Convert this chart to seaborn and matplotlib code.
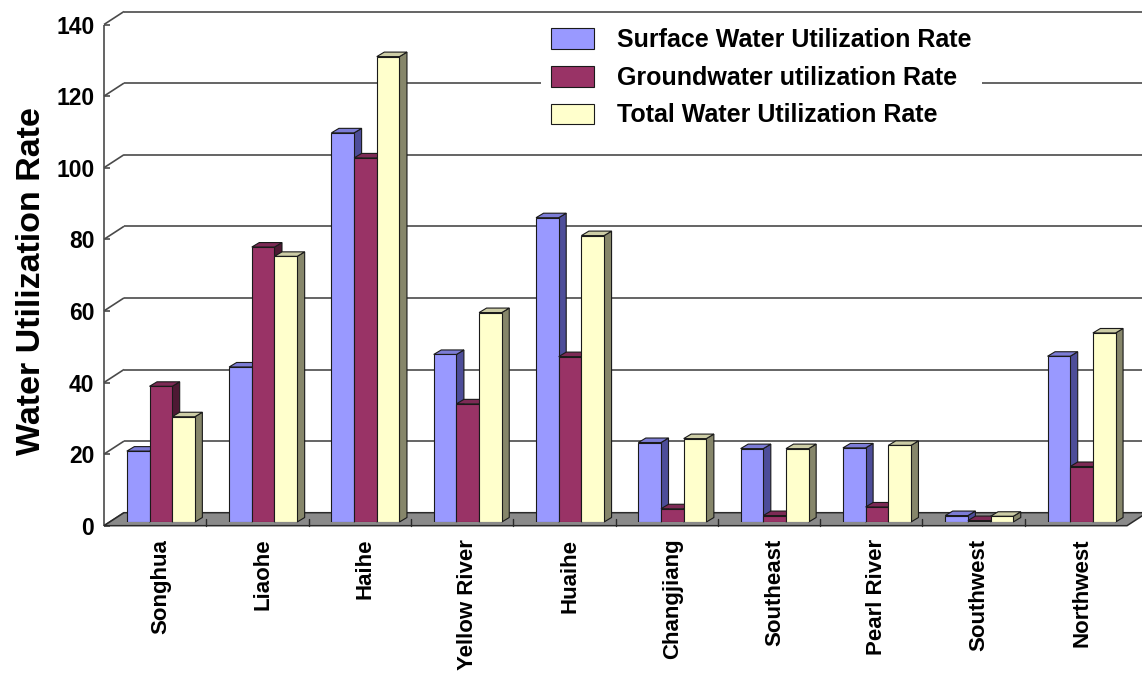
import matplotlib
matplotlib.use("Agg")
import matplotlib.pyplot as plt
import matplotlib.transforms as mtransforms
from matplotlib.patches import Polygon
import pandas as pd
import seaborn as sns

# Data
BASINS = ["Songhua", "Liaohe", "Haihe", "Yellow River", "Huaihe",
          "Changjiang", "Southeast", "Pearl River", "Southwest", "Northwest"]
SURFACE = [19.8, 43.3, 108.7, 46.8, 85.0, 22.2, 20.5, 20.7, 1.8, 46.3]
GROUND = [37.9, 76.8, 101.7, 33.0, 46.2, 3.7, 1.8, 4.2, 0.4, 15.5]
TOTAL = [29.4, 74.2, 130.0, 58.5, 80.0, 23.3, 20.5, 21.4, 1.6, 52.8]
SERIES = ["Surface Water Utilization Rate",
          "Groundwater utilization Rate",
          "Total Water Utilization Rate"]
Y_TICKS = [0, 20, 40, 60, 80, 100, 120, 140]

# Excel-like 3D shading: front / side / top colours per series
FRONT = ["#9999ff", "#993366", "#ffffcc"]
SIDE = ["#4d4d99", "#4d1933", "#86866a"]
TOP = ["#7c7cd6", "#7d2a55", "#cdcda6"]

BAR_DEPTH = (7.5, 4.5)      # pixels, bar depth offset
FRONT_PLANE = (-5.7, -3.7)  # pixels, front edge of floor / axis
BACK_PLANE = (14.3, 9.3)    # pixels, back wall

df = pd.DataFrame({
    "basin": BASINS * 3,
    "rate": SURFACE + GROUND + TOTAL,
    "series": [s for s in SERIES for _ in BASINS],
})

sns.set_style("white")
plt.rcParams["font.family"] = ["Liberation Sans", "DejaVu Sans"]
plt.rcParams["font.weight"] = "bold"
for key in ["text.color", "axes.labelcolor", "xtick.color", "ytick.color"]:
    plt.rcParams[key] = "black"

W_PX, H_PX = 1142, 676
fig = plt.figure(figsize=(W_PX / 100, H_PX / 100), dpi=100)
ax = fig.add_axes([109.7 / W_PX, 154 / H_PX, 1023 / W_PX, 501.2 / H_PX])

sns.barplot(data=df, x="basin", y="rate", hue="series", hue_order=SERIES,
            palette=FRONT, saturation=1, width=0.665, edgecolor="#1a1a1a",
            linewidth=0.8, ax=ax)
ax.set_xlim(-0.5, len(BASINS) - 0.5)
ax.set_ylim(0, 140)
ax.set_yticks(Y_TICKS)
for s in ax.spines.values():
    s.set_visible(False)


def shifted(points, off):
    disp = ax.transData.transform(points)
    disp[:, 0] += off[0]
    disp[:, 1] += off[1]
    return ax.transData.inverted().transform(disp)


def line(points, **kw):
    xs, ys = zip(*points)
    ax.plot(xs, ys, clip_on=False, **kw)


x_lo, x_hi = -0.5, len(BASINS) - 0.5
grid_kw = dict(color="#4a4a4a", lw=1.2, zorder=0.3, solid_capstyle="butt")

# back wall gridlines and left wall diagonals
for v in Y_TICKS:
    back = shifted([[x_lo, v], [x_hi, v]], BACK_PLANE)
    front = shifted([[x_lo, v]], FRONT_PLANE)
    if v > 0:
        line(back, **grid_kw)
    line([front[0], back[0]], **grid_kw)
    tick = shifted([[x_lo, v], [x_lo, v]], FRONT_PLANE)
    tick = ax.transData.transform(tick)
    tick[1, 0] += 6
    line(ax.transData.inverted().transform(tick), **grid_kw)

# front vertical axis
line(shifted([[x_lo, 0], [x_lo, 140]], FRONT_PLANE), **grid_kw)

# floor
f = shifted([[x_lo, 0], [x_hi, 0]], FRONT_PLANE)
b = shifted([[x_hi, 0], [x_lo, 0]], BACK_PLANE)
ax.add_patch(Polygon([f[0], f[1], b[0], b[1]], closed=True, facecolor="#8a8a8a",
                     edgecolor="#2a2a2a", lw=1.1, zorder=0.5, clip_on=False))
for k in range(1, len(BASINS)):
    t = ax.transData.transform(shifted([[x_lo + k, 0]], FRONT_PLANE))[0]
    line(ax.transData.inverted().transform([t, [t[0], t[1] + 7]]),
         color="#2a2a2a", lw=1.0, zorder=0.6)

# 3D side / top faces for every bar, drawn left to right
bars = []
for i, cont in enumerate(ax.containers):
    for p in cont.patches:
        bars.append((p.get_x(), i, p))
bars.sort(key=lambda t: t[0])
for k, (_, i, p) in enumerate(bars):
    x0, w, h = p.get_x(), p.get_width(), p.get_height()
    z = 2 + 0.01 * k
    side_b = shifted([[x0 + w, h], [x0 + w, 0]], BAR_DEPTH)
    ax.add_patch(Polygon([[x0 + w, 0], [x0 + w, h], side_b[0], side_b[1]],
                         closed=True, facecolor=SIDE[i], edgecolor="#1a1a1a",
                         lw=0.8, zorder=z, clip_on=False))
    top_b = shifted([[x0 + w, h], [x0, h]], BAR_DEPTH)
    ax.add_patch(Polygon([[x0, h], [x0 + w, h], top_b[0], top_b[1]],
                         closed=True, facecolor=TOP[i], edgecolor="#1a1a1a",
                         lw=0.8, zorder=z, clip_on=False))
    p.set_zorder(z + 0.005)

# axis labels and ticks
ax.set_xlabel("")
ax.set_ylabel("Water Utilization Rate", fontsize=24.5, fontweight="bold")
ax.yaxis.set_label_coords(-0.061, 0.48)
ax.tick_params(axis="x", length=0, pad=12, labelsize=16, rotation=90)
ax.tick_params(axis="y", length=0, pad=7, labelsize=16.5)
off = mtransforms.ScaledTranslation(FRONT_PLANE[0] / 100, FRONT_PLANE[1] / 100,
                                    fig.dpi_scale_trans)
for tk in ax.yaxis.get_major_ticks():
    tk.label1.set_transform(tk.label1.get_transform() + off)
    tk.label1.set_fontweight("bold")
for lab in ax.get_xticklabels():
    lab.set_fontweight("bold")

handles, labels = ax.get_legend_handles_labels()
leg = ax.legend(handles, labels, loc="upper left",
                bbox_to_anchor=(541 / W_PX, 1 - 18 / H_PX),
                bbox_transform=fig.transFigure, borderaxespad=0,
                frameon=True, fancybox=False, facecolor="white",
                edgecolor="none", framealpha=1,
                prop={"size": 18, "weight": "bold"},
                handlelength=1.7, handleheight=0.9, handletextpad=0.95,
                labelspacing=0.55, borderpad=0.4)
leg.set_zorder(10)

fig.savefig("out.png", dpi=100)
